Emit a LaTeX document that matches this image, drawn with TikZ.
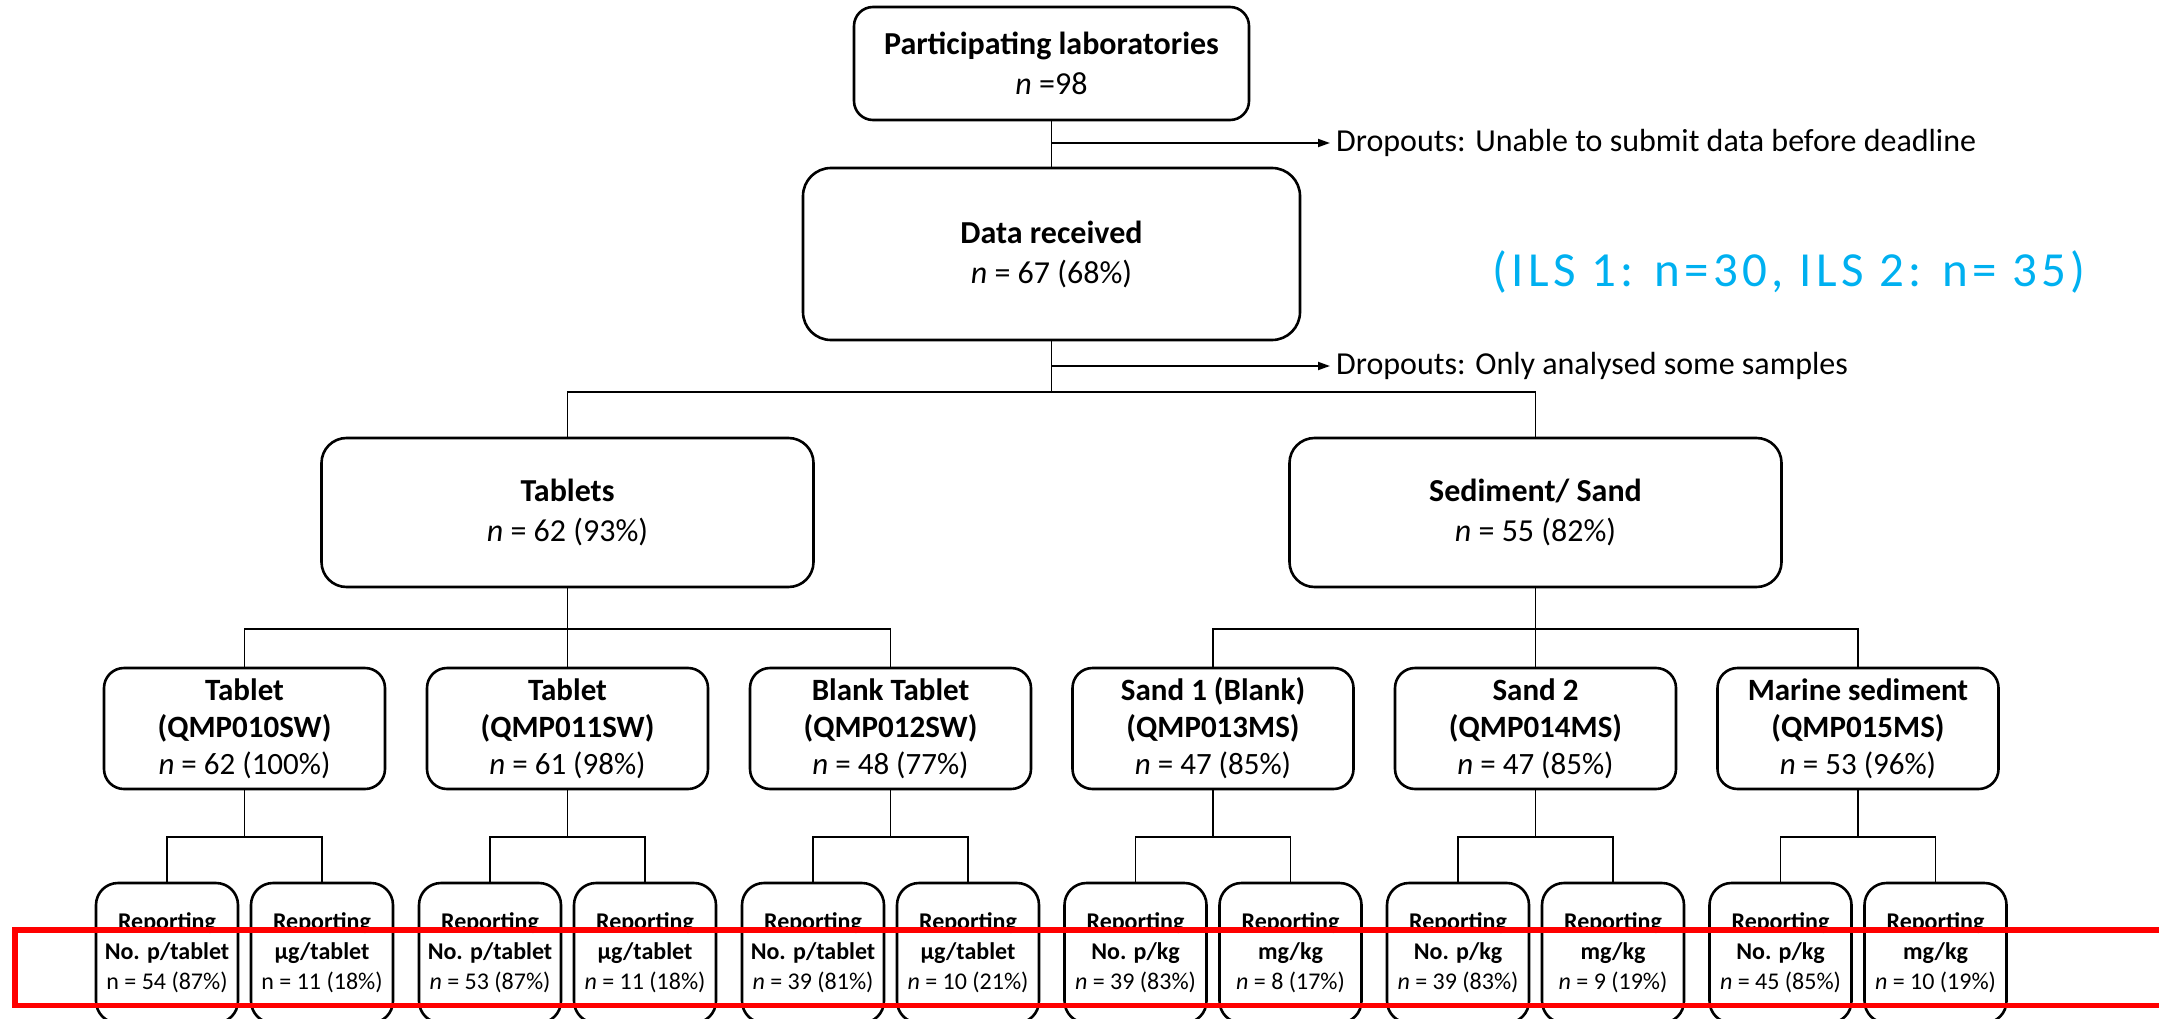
\documentclass[tikz,border=0pt]{standalone}
\usepackage{fontspec}
\setmainfont{Carlito}
\newfontfamily\ilsfont[LetterSpace=9]{Carlito}
\usepackage{tikz}
\usetikzlibrary{arrows.meta, positioning}
\definecolor{ilsblue}{HTML}{00B0F0}
\definecolor{markred}{HTML}{FF0000}
\tikzset{
  flowbox/.style={draw=black, fill=white, line width=2.6pt, align=center, inner sep=0pt},
  labbox/.style={flowbox, rounded corners=19pt, minimum width=395pt, minimum height=113pt,
                 font={\fontsize{32}{40}\selectfont}},
  recvbox/.style={flowbox, rounded corners=28pt, minimum width=497pt, minimum height=172pt,
                  font={\fontsize{32}{40}\selectfont}},
  matbox/.style={flowbox, rounded corners=25pt, minimum width=492pt, minimum height=149pt,
                 font={\fontsize{32}{40}\selectfont}},
  samplebox/.style={flowbox, rounded corners=20pt, minimum width=281pt, minimum height=121pt,
                    font={\fontsize{31}{37}\selectfont}},
  repbox/.style={flowbox, rounded corners=22pt, minimum width=142pt, minimum height=140pt,
                 font={\fontsize{24}{30}\selectfont}},
  conn/.style={draw=black, line width=1.8pt},
  droparrow/.style={conn, -{Triangle[length=12pt, width=8pt]}},
  dropnote/.style={anchor=west, inner xsep=6pt, inner ysep=0pt, font={\fontsize{32}{38}\selectfont}},
  ilsnote/.style={text=ilsblue, inner sep=0pt, font={\ilsfont\fontsize{49}{58}\selectfont}},
  markbox/.style={draw=markred, line width=5.5pt},
}

\begin{document}
\begin{tikzpicture}[x=1pt, y=-1pt]
  \useasboundingbox (0,0) rectangle (2159,1019);
  \clip (0,0) rectangle (2159,1019);

  %% Participating laboratories -> data received
  \node[labbox] (labs) at (1051.5,63.5)
    {\textbf{Participating laboratories}\\\textit{n} =98};
  \node[recvbox] (recv) at (1051.5,254)
    {\textbf{Data received}\\\textit{n} = 67 (68\%)};
  \draw[conn] (labs) -- (recv);
  \node[dropnote] (drop1) at (1330,143) {Dropouts: Unable to submit data before deadline};
  \draw[droparrow] (labs.south |- drop1.west) -- (drop1.west);

  \node[ilsnote] (ils) at (1789,272) {(ILS 1: n=30, ILS 2: n= 35)};

  %% Split by material
  \node[matbox] (tabs) at (567.5,512.5) {\textbf{Tablets}\\\textit{n} = 62 (93\%)};
  \node[matbox] (sed) at (1535.5,512.5) {\textbf{Sediment/ Sand}\\\textit{n} = 55 (82\%)};
  \coordinate (split0) at (1051.5,392);
  \draw[conn] (recv) -- (split0);
  \node[dropnote] (drop2) at (1330,366) {Dropouts: Only analysed some samples};
  \draw[droparrow] (recv.south |- drop2.west) -- (drop2.west);
  \draw[conn] (tabs.north) |- (split0) -| (sed.north);

  %% Samples (centres 323 apart)
  \node[samplebox] (s1) at (244.5,728.5)
    {\textbf{Tablet}\\\textbf{(QMP010SW)}\\\textit{n} = 62 (100\%)};
  \node[samplebox] (s2) at (567.5,728.5)
    {\textbf{Tablet}\\\textbf{(QMP011SW)}\\\textit{n} = 61 (98\%)};
  \node[samplebox] (s3) at (890.5,728.5)
    {\textbf{Blank Tablet}\\\textbf{(QMP012SW)}\\\textit{n} = 48 (77\%)};
  \node[samplebox] (s4) at (1213,728.5)
    {\textbf{Sand 1 (Blank)}\\\textbf{(QMP013MS)}\\\textit{n} = 47 (85\%)};
  \node[samplebox] (s5) at (1535.5,728.5)
    {\textbf{Sand 2}\\\textbf{(QMP014MS)}\\\textit{n} = 47 (85\%)};
  \node[samplebox] (s6) at (1858,728.5)
    {\textbf{Marine sediment}\\\textbf{(QMP015MS)}\\\textit{n} = 53 (96\%)};

  \coordinate (tabsfork) at (567.5,629);
  \coordinate (sedfork) at (1535.5,629);
  \draw[conn] (tabs) -- (s2);
  \draw[conn] (s1.north) |- (tabsfork) -| (s3.north);
  \draw[conn] (sed) -- (s5);
  \draw[conn] (s4.north) |- (sedfork) -| (s6.north);

  %% Reporting units (cut off by the page bottom)
  \node[repbox] (r1a) at (167,953)
    {\textbf{Reporting}\\\textbf{No. p/tablet}\\n = 54 (87\%)};
  \node[repbox] (r1b) at (322,953)
    {\textbf{Reporting}\\\textbf{µg/tablet}\\n = 11 (18\%)};
  \node[repbox] (r2a) at (490,953)
    {\textbf{Reporting}\\\textbf{No. p/tablet}\\\textit{n} = 53 (87\%)};
  \node[repbox] (r2b) at (645,953)
    {\textbf{Reporting}\\\textbf{µg/tablet}\\\textit{n} = 11 (18\%)};
  \node[repbox] (r3a) at (813,953)
    {\textbf{Reporting}\\\textbf{No. p/tablet}\\\textit{n} = 39 (81\%)};
  \node[repbox] (r3b) at (968,953)
    {\textbf{Reporting}\\\textbf{µg/tablet}\\\textit{n} = 10 (21\%)};
  \node[repbox] (r4a) at (1135.5,953)
    {\textbf{Reporting}\\\textbf{No. p/kg}\\\textit{n} = 39 (83\%)};
  \node[repbox] (r4b) at (1290.5,953)
    {\textbf{Reporting}\\\textbf{mg/kg}\\\textit{n} = 8 (17\%)};
  \node[repbox] (r5a) at (1458,953)
    {\textbf{Reporting}\\\textbf{No. p/kg}\\\textit{n} = 39 (83\%)};
  \node[repbox] (r5b) at (1613,953)
    {\textbf{Reporting}\\\textbf{mg/kg}\\\textit{n} = 9 (19\%)};
  \node[repbox] (r6a) at (1780.5,953)
    {\textbf{Reporting}\\\textbf{No. p/kg}\\\textit{n} = 45 (85\%)};
  \node[repbox] (r6b) at (1935.5,953)
    {\textbf{Reporting}\\\textbf{mg/kg}\\\textit{n} = 10 (19\%)};

  \coordinate (s1fork) at (244.5,837);
  \coordinate (s2fork) at (567.5,837);
  \coordinate (s3fork) at (890.5,837);
  \coordinate (s4fork) at (1213,837);
  \coordinate (s5fork) at (1535.5,837);
  \coordinate (s6fork) at (1858,837);
  \draw[conn] (s1) -- (s1fork);
  \draw[conn] (r1a.north) |- (s1fork) -| (r1b.north);
  \draw[conn] (s2) -- (s2fork);
  \draw[conn] (r2a.north) |- (s2fork) -| (r2b.north);
  \draw[conn] (s3) -- (s3fork);
  \draw[conn] (r3a.north) |- (s3fork) -| (r3b.north);
  \draw[conn] (s4) -- (s4fork);
  \draw[conn] (r4a.north) |- (s4fork) -| (r4b.north);
  \draw[conn] (s5) -- (s5fork);
  \draw[conn] (r5a.north) |- (s5fork) -| (r5b.north);
  \draw[conn] (s6) -- (s6fork);
  \draw[conn] (r6a.north) |- (s6fork) -| (r6b.north);

  %% Highlight over the bottom row
  \draw[markbox] (15,930) rectangle (2180,1005.5);

\end{tikzpicture}
\end{document}
